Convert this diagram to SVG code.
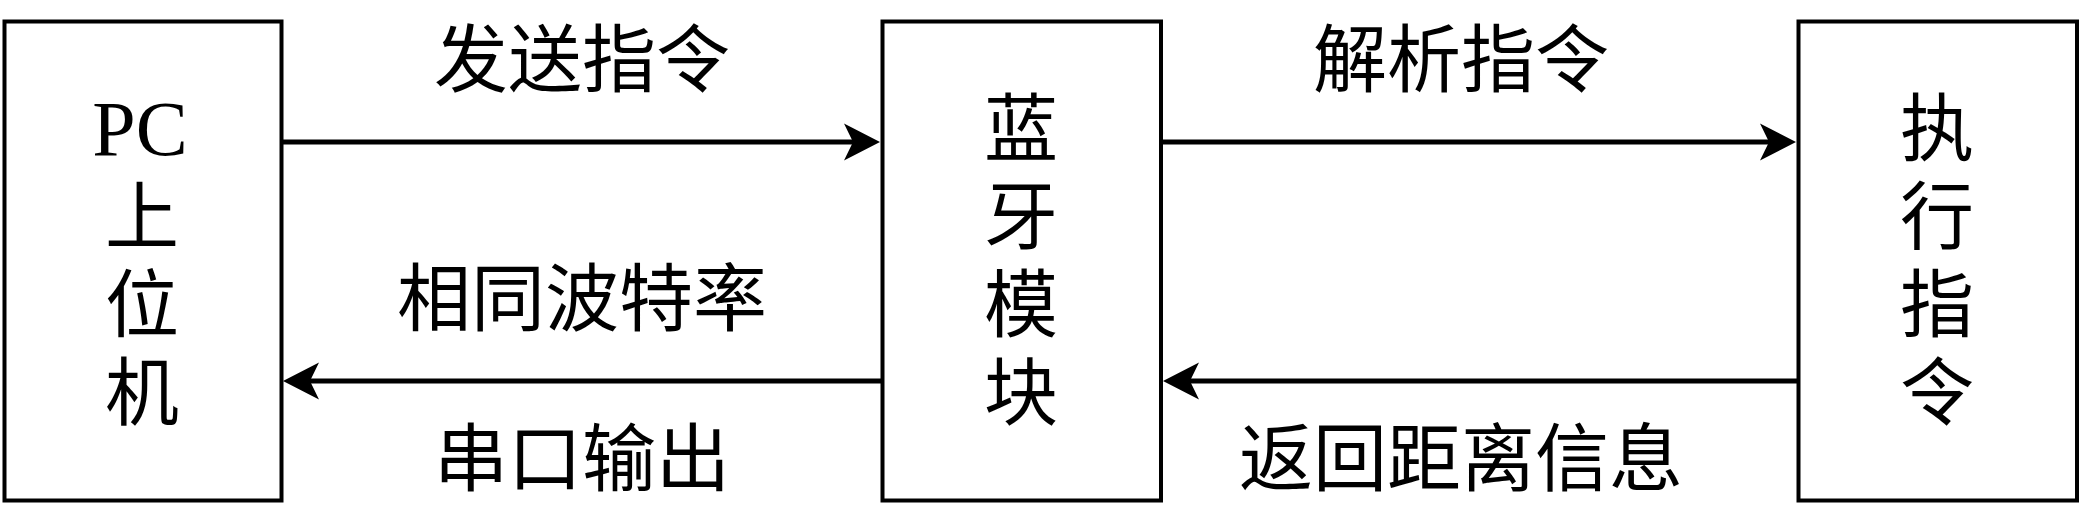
<svg xmlns="http://www.w3.org/2000/svg" width="2080" height="524" viewBox="0 0 2080 524">
<defs>
<style>
.box{fill:#fff;stroke:#000;stroke-width:4}
.t{font-family:"Liberation Serif","Noto Sans CJK SC",serif;font-size:74px;fill:#000;text-anchor:middle;dominant-baseline:central}
.pc{font-family:"Liberation Serif",serif;font-size:78px;fill:#000;text-anchor:middle}
.ln{stroke:#000;stroke-width:5;fill:none}
</style>
<marker id="ah" markerUnits="userSpaceOnUse" markerWidth="40" markerHeight="40" viewBox="-38 -20 40 40" refX="-26" refY="0" orient="auto">
<path d="M0,0 L-36,-18.5 L-27,0 L-36,18.5 Z" fill="#000"/>
</marker>
</defs>
<rect width="2080" height="524" fill="#fff"/>
<g id="pc">
<rect class="box" x="4.5" y="21.5" width="277" height="479"/>
<text class="pc" x="140" y="155">PC</text>
<text class="t" x="142" y="218">上</text>
<text class="t" x="142" y="306">位</text>
<text class="t" x="142" y="394">机</text>
</g>
<g id="bt">
<rect class="box" x="882.5" y="21.5" width="278.5" height="479"/>
<text class="t" x="1021" y="130">蓝</text>
<text class="t" x="1021" y="218">牙</text>
<text class="t" x="1021" y="306">模</text>
<text class="t" x="1021" y="394">块</text>
</g>
<g id="exec">
<rect class="box" x="1798.5" y="21.5" width="278.5" height="479"/>
<text class="t" x="1937" y="130">执</text>
<text class="t" x="1937" y="218">行</text>
<text class="t" x="1937" y="306">指</text>
<text class="t" x="1937" y="394">令</text>
</g>
<g id="connectors">
<line class="ln" x1="283" y1="142" x2="854" y2="142" marker-end="url(#ah)"/>
<line class="ln" x1="1163" y1="142" x2="1770" y2="142" marker-end="url(#ah)"/>
<line class="ln" x1="1797" y1="381" x2="1189" y2="381" marker-end="url(#ah)"/>
<line class="ln" x1="881" y1="381" x2="309" y2="381" marker-end="url(#ah)"/>
<text class="t" x="582" y="61">发送指令</text>
<text class="t" x="582" y="300">相同波特率</text>
<text class="t" x="582" y="460">串口输出</text>
<text class="t" x="1461" y="61">解析指令</text>
<text class="t" x="1461" y="460">返回距离信息</text>
</g>
</svg>
